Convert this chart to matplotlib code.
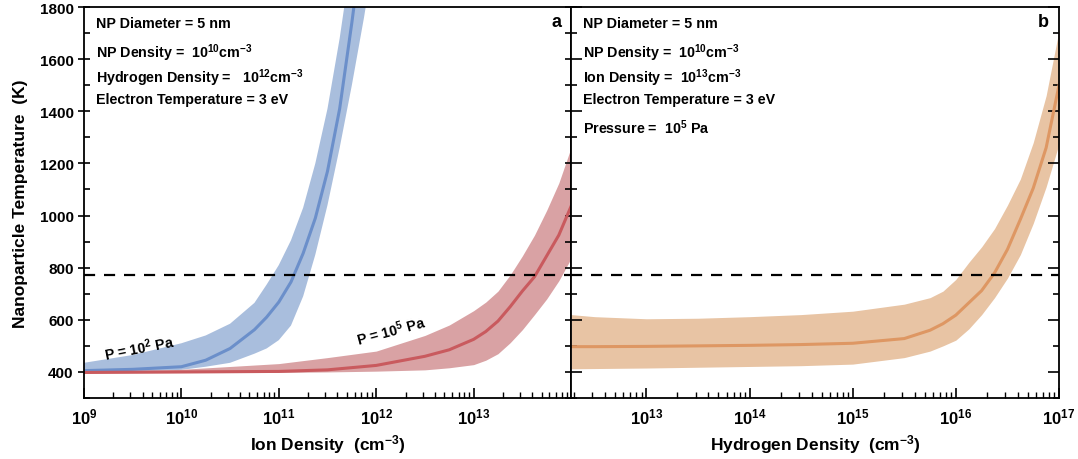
import numpy as np
import matplotlib
matplotlib.use("Agg")
import matplotlib.pyplot as plt
from matplotlib.ticker import LogLocator, MultipleLocator, NullFormatter

plt.rcParams['font.family'] = ['Liberation Sans', 'DejaVu Sans']
plt.rcParams['font.weight'] = 'bold'
plt.rcParams['mathtext.fontset'] = 'custom'
plt.rcParams['mathtext.rm'] = 'Liberation Sans:bold'
plt.rcParams['mathtext.bf'] = 'Liberation Sans:bold'
plt.rcParams['mathtext.it'] = 'Liberation Sans:bold:italic'
plt.rcParams['mathtext.default'] = 'bf'

# ---- panel a : ion density sweep (log10 of density) ----
blue_logx = [9.0, 9.5, 10.0, 10.25, 10.5, 10.75, 10.875, 11.0, 11.125, 11.25,
             11.375, 11.5, 11.625, 11.75, 11.875, 12.0]
blue_mid = [405, 410, 420, 445, 490, 562, 610, 668, 745, 855,
            990, 1170, 1410, 1740, 2100, 2450]
blue_hi = [435, 465, 510, 540, 585, 665, 735, 810, 905, 1030,
           1200, 1410, 1680, 2000, 2350, 2700]
blue_lo = [398, 400, 408, 420, 435, 470, 490, 522, 578, 690,
           850, 1040, 1260, 1500, 1760, 2050]

red_logx = [9.0, 10.0, 11.0, 11.5, 12.0, 12.5, 12.75, 13.0, 13.125, 13.25,
            13.375, 13.5, 13.625, 13.75, 13.875, 14.0]
red_mid = [398, 400, 402, 408, 425, 460, 485, 525, 555, 595,
           650, 710, 765, 845, 925, 1035]
red_hi = [400, 410, 432, 455, 480, 540, 580, 635, 668, 710,
          772, 845, 925, 1020, 1125, 1260]
red_lo = [396, 397, 398, 400, 403, 408, 416, 428, 445, 470,
          512, 562, 620, 680, 750, 835]

# ---- panel b : hydrogen density sweep ----
org_logx = [12.27, 12.5, 13.0, 13.5, 14.0, 14.5, 15.0, 15.5, 15.75, 15.875,
            16.0, 16.125, 16.25, 16.375, 16.5, 16.625, 16.75, 16.875, 17.0]
org_mid = [497, 497, 498, 500, 502, 505, 510, 528, 560, 585,
           618, 665, 712, 780, 870, 985, 1105, 1260, 1500]
org_hi = [620, 612, 604, 606, 612, 620, 633, 660, 685, 710,
          755, 820, 880, 950, 1040, 1140, 1280, 1460, 1710]
org_lo = [412, 413, 415, 418, 421, 424, 430, 455, 480, 500,
          522, 565, 620, 685, 760, 850, 970, 1110, 1275]

t_threshold = 770

text_a = ["NP Diameter = 5 nm",
          "NP Density =  $10^{10}$cm$^{-3}$",
          "Hydrogen Density =   $10^{12}$cm$^{-3}$",
          "Electron Temperature = 3 eV"]
text_b = ["NP Diameter = 5 nm",
          "NP Density =  $10^{10}$cm$^{-3}$",
          "Ion Density =  $10^{13}$cm$^{-3}$",
          "Electron Temperature = 3 eV",
          "Pressure =  $10^{5}$ Pa"]

xt_a = [1e9, 1e10, 1e11, 1e12, 1e13]
xt_b = [1e13, 1e14, 1e15, 1e16, 1e17]

fig = plt.figure(figsize=(10.78, 4.6), dpi=100)
axa = fig.add_axes([0.0779, 0.1326, 0.4518, 0.85])
axb = fig.add_axes([0.5297, 0.1326, 0.4527, 0.85])


def band(ax, logx, lo, mid, hi, fc, lc):
    x = 10.0 ** np.array(logx)
    ax.fill_between(x, lo, hi, color=fc, lw=0, zorder=1)
    ax.plot(x, mid, color=lc, lw=2.2, zorder=2)


band(axa, blue_logx, blue_lo, blue_mid, blue_hi, '#a9bedd', '#6b8fca')
band(axa, red_logx, red_lo, red_mid, red_hi, '#d9a2a4', '#c95a5e')
band(axb, org_logx, org_lo, org_mid, org_hi, '#e8c4a4', '#de9763')

for ax in (axa, axb):
    ax.set_xscale('log')
    ax.set_ylim(300, 1800)
    ax.axhline(t_threshold, color='black', lw=1.6, ls=(0, (5, 4)), zorder=3)
    ax.yaxis.set_major_locator(MultipleLocator(200))
    ax.yaxis.set_minor_locator(MultipleLocator(100))
    ax.xaxis.set_minor_locator(LogLocator(base=10, subs=np.arange(2, 10), numticks=20))
    ax.xaxis.set_minor_formatter(NullFormatter())
    for s in ax.spines.values():
        s.set_linewidth(1.3)
    ax.tick_params(axis='x', which='major', direction='in', length=7, width=1.2,
                   labelsize=12, pad=6)
    ax.tick_params(axis='x', which='minor', direction='in', length=4, width=1.0)
    ax.tick_params(axis='y', which='both', direction='in', right=True, width=1.2)
    ax.tick_params(axis='y', which='major', length=8)
    ax.tick_params(axis='y', which='minor', length=4)

axa.set_xlim(1e9, 1e14)
axa.set_xticks(xt_a)
axa.set_xticklabels(['$10^{%d}$' % int(np.log10(v)) for v in xt_a])
axa.tick_params(axis='y', which='major', direction='inout', labelsize=11)
axa.set_xlabel('Ion Density  (cm$^{-3}$)', fontsize=12.5, fontweight='bold')
axa.set_ylabel('Nanoparticle Temperature  (K)', fontsize=12.5, fontweight='bold', labelpad=8)

axb.set_xlim(10 ** 12.27, 1e17)
axb.set_xticks(xt_b)
axb.set_xticklabels(['$10^{%d}$' % int(np.log10(v)) for v in xt_b])
axb.tick_params(axis='y', which='both', labelleft=False)
axb.set_xlabel('Hydrogen Density  (cm$^{-3}$)', fontsize=12.5, fontweight='bold')

for i, t in enumerate(text_a):
    axa.text(0.025, 0.978 - i * 0.065, t, transform=axa.transAxes, fontsize=10.3,
             fontweight='bold', va='top', ha='left')
for i, t in enumerate(text_b):
    axb.text(0.025, 0.978 - i * 0.065, t, transform=axb.transAxes, fontsize=10.3,
             fontweight='bold', va='top', ha='left')

axa.text(0.98, 0.985, 'a', transform=axa.transAxes, fontsize=13, fontweight='bold',
         va='top', ha='right')
axb.text(0.98, 0.985, 'b', transform=axb.transAxes, fontsize=13, fontweight='bold',
         va='top', ha='right')

axa.text(10 ** 9.57, 497, 'P = $10^{2}$ Pa', fontsize=10.3, fontweight='bold',
         rotation=11, ha='center', va='center')
axa.text(10 ** 12.15, 562, 'P = $10^{5}$ Pa', fontsize=10.3, fontweight='bold',
         rotation=15, ha='center', va='center')

fig.savefig('out.png', dpi=100)
